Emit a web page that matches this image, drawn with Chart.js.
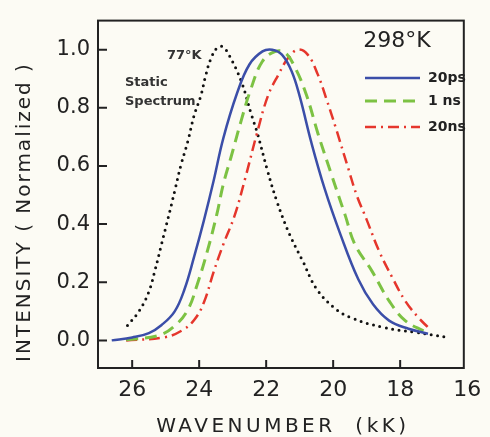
<!DOCTYPE html>
<html>
<head>
<meta charset="utf-8">
<script src="https://cdn.jsdelivr.net/npm/chart.js@4"></script>
<style>
  html, body { margin: 0; padding: 0; background: #fcfbf4; }
  #wrap { width: 490px; height: 437px; }
</style>
</head>
<body>
<div id="wrap"><canvas id="chart" width="490" height="437"></canvas></div>
<script>
// tick labels
const xTicks = [26, 24, 22, 20, 18, 16];
const yTicks = [0, 0.2, 0.4, 0.6, 0.8, 1.0];

// 77°K static spectrum
const staticX = [26.14, 25.8, 25.51, 25.31, 25.12, 24.92, 24.73, 24.54, 24.34, 24.15, 23.95, 23.81, 23.66, 23.47, 23.3, 23.1, 22.74, 22.45, 22.26, 21.97, 21.67, 21.29, 20.9, 20.51, 19.98, 19.49, 18.52, 17.56, 16.59];
const staticY = [0.051, 0.1, 0.165, 0.245, 0.333, 0.424, 0.514, 0.605, 0.684, 0.774, 0.842, 0.909, 0.966, 1.006, 1.01, 0.98, 0.89, 0.78, 0.712, 0.588, 0.475, 0.362, 0.271, 0.18, 0.113, 0.079, 0.045, 0.028, 0.011];

// 298°K, 20ps
const ps20X = [26.61, 26.0, 25.5, 25.12, 24.73, 24.44, 24.15, 23.86, 23.57, 23.28, 22.87, 22.5, 22.11, 21.82, 21.53, 21.24, 21.0, 20.65, 20.25, 19.8, 19.25, 18.81, 18.33, 17.75, 17.17];
const ps20Y = [0.0, 0.01, 0.025, 0.053, 0.1, 0.175, 0.288, 0.412, 0.548, 0.695, 0.85, 0.949, 0.994, 1.0, 0.983, 0.926, 0.84, 0.68, 0.52, 0.37, 0.21, 0.124, 0.068, 0.04, 0.023];

// 298°K, 1 ns
const ns1X = [26.18, 25.21, 24.73, 24.34, 24.05, 23.76, 23.47, 23.28, 23.05, 22.76, 22.47, 22.11, 21.72, 21.43, 21.14, 20.8, 20.45, 20.05, 19.64, 19.35, 18.85, 18.33, 17.85, 17.26];
const ns1Y = [0.002, 0.017, 0.05, 0.105, 0.195, 0.305, 0.435, 0.537, 0.63, 0.75, 0.86, 0.96, 0.994, 0.989, 0.939, 0.845, 0.71, 0.57, 0.43, 0.33, 0.24, 0.136, 0.068, 0.03];

// 298°K, 20ns
const ns20X = [26.18, 25.02, 24.5, 24.15, 23.86, 23.57, 23.28, 22.94, 22.62, 22.28, 21.95, 21.63, 21.34, 21.05, 20.76, 20.46, 20.2, 19.93, 19.54, 19.3, 19.01, 18.62, 18.23, 17.85, 17.46, 17.17];
const ns20Y = [0.0, 0.011, 0.035, 0.07, 0.13, 0.235, 0.33, 0.43, 0.56, 0.71, 0.84, 0.915, 0.972, 1.0, 0.983, 0.915, 0.83, 0.734, 0.588, 0.5, 0.418, 0.305, 0.215, 0.136, 0.079, 0.045];

const pts = (xs, ys) => xs.map((x, i) => ({ x: x, y: ys[i] }));
const ink = "#222";
const font = "DejaVu Sans";

// frame, inward ticks, titles, legend and notes
const decor = {
  id: "decor",
  afterDraw(chart) {
    const ctx = chart.ctx;
    const a = chart.chartArea;
    const sx = chart.scales.x, sy = chart.scales.y;
    ctx.save();
    ctx.strokeStyle = ink;
    ctx.lineWidth = 2;
    ctx.strokeRect(a.left, a.top, a.right - a.left, a.bottom - a.top);
    ctx.beginPath();
    xTicks.forEach(v => {
      const px = sx.getPixelForValue(v);
      if (px > a.left + 2 && px < a.right - 2) {
        ctx.moveTo(px, a.bottom);
        ctx.lineTo(px, a.bottom - 8);
      }
    });
    yTicks.forEach(v => {
      const py = sy.getPixelForValue(v);
      ctx.moveTo(a.left, py);
      ctx.lineTo(a.left + 9, py);
    });
    ctx.stroke();

    // axis titles
    ctx.fillStyle = ink;
    ctx.textAlign = "center";
    ctx.textBaseline = "middle";
    ctx.font = "20px " + font;
    ctx.letterSpacing = "3.5px";
    ctx.fillText("WAVENUMBER  (kK)", (a.left + a.right) / 2 + 2, 427);
    ctx.save();
    ctx.translate(25, 212);
    ctx.rotate(-Math.PI / 2);
    ctx.letterSpacing = "2px";
    ctx.fillText("INTENSITY ( Normalized )", 0, 0);
    ctx.restore();
    ctx.letterSpacing = "0px";

    // legend
    ctx.font = "22px " + font;
    ctx.fillText("298°K", 397, 41);
    ctx.font = "bold 14px " + font;
    ctx.textAlign = "left";
    const rows = [78, 101, 127];
    chart.data.datasets.slice(0, 3).forEach((ds, i) => {
      ctx.save();
      ctx.strokeStyle = ds.borderColor;
      ctx.lineWidth = ds.borderWidth;
      ctx.setLineDash(ds.borderDash || []);
      ctx.beginPath();
      ctx.moveTo(365, rows[i]);
      ctx.lineTo(420, rows[i]);
      ctx.stroke();
      ctx.restore();
      ctx.fillText(ds.label, 428, rows[i]);
    });

    // static spectrum notes
    ctx.font = "bold 13px " + font;
    ctx.fillStyle = "#333";
    ctx.fillText("77°K", 167, 56);
    ctx.fillText("Static", 125, 83);
    ctx.fillText("Spectrum", 125, 102);
    ctx.restore();
  }
};

new Chart(document.getElementById("chart"), {
  type: "scatter",
  data: {
    datasets: [
      {
        label: "20ps",
        data: pts(ps20X, ps20Y),
        borderColor: "#3b4ea8",
        borderWidth: 2.5,
      },
      {
        label: "1 ns",
        data: pts(ns1X, ns1Y),
        borderColor: "#7cc243",
        borderWidth: 3,
        borderDash: [12, 7],
      },
      {
        label: "20ns",
        data: pts(ns20X, ns20Y),
        borderColor: "#e5362c",
        borderWidth: 2.5,
        borderDash: [11, 5, 2, 5],
      },
      {
        label: "77°K",
        data: pts(staticX, staticY),
        borderColor: "#111",
        borderWidth: 3,
        borderDash: [0, 6.5],
        borderCapStyle: "round",
      },
    ],
  },
  options: {
    responsive: false,
    animation: false,
    showLine: true,
    elements: {
      point: { radius: 0 },
      line: { tension: 0.4, fill: false },
    },
    layout: { padding: { top: 15, right: 17, left: 0, bottom: 0 } },
    scales: {
      x: {
        type: "linear",
        reverse: true,
        min: 16.1,
        max: 27.02,
        afterBuildTicks: s => { s.ticks = xTicks.map(v => ({ value: v })); },
        afterFit: s => { s.height = 69; },
        grid: { display: false, drawTicks: false },
        border: { display: false },
        ticks: {
          autoSkip: false,
          maxRotation: 0,
          padding: 9,
          color: ink,
          font: { family: font, size: 22 },
          callback: v => String(v),
        },
      },
      y: {
        min: -0.095,
        max: 1.1,
        afterBuildTicks: s => { s.ticks = yTicks.map(v => ({ value: v })); },
        afterFit: s => { s.width = 98; },
        grid: { display: false, drawTicks: false },
        border: { display: false },
        ticks: {
          autoSkip: false,
          padding: 8,
          color: ink,
          font: { family: font, size: 21 },
          callback: v => v.toFixed(1),
        },
      },
    },
    plugins: {
      legend: { display: false },
      tooltip: { enabled: false },
    },
  },
  plugins: [decor],
});
</script>
</body>
</html>
